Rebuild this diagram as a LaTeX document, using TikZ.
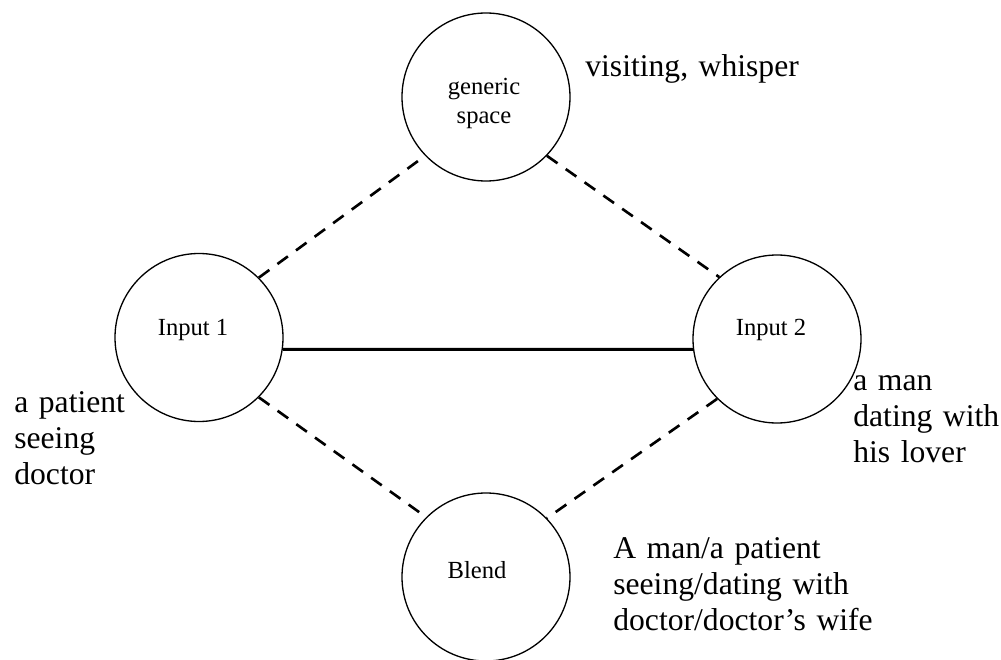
\documentclass[tikz,border=0pt]{standalone}
\usepackage{fontspec}
\setmainfont{Liberation Serif}
\usetikzlibrary{positioning}

\begin{document}
\begin{tikzpicture}[
        bubble/.style={circle, draw=black, line width=0.75pt, minimum size=3.36cm, inner sep=0pt},
        dashlink/.style={line width=1.5pt, dash pattern=on 7.4pt off 5.7pt},
        mainlink/.style={line width=1.7pt},
        inlbl/.style={font=\fontsize{14}{16.1}\selectfont, inner sep=0pt, anchor=base, align=center},
        note/.style={font=\fontsize{18}{20.7}\selectfont, inner sep=0pt, anchor=base west, align=left, text width=7cm}
      ]
        \useasboundingbox (0,0) rectangle (20.02,13.18);
        \node[bubble] (gen) at (9.72, 11.24) {};
        \node[bubble] (in1) at (3.98, 6.43) {};
        \node[bubble] (in2) at (15.54, 6.40) {};
        \node[bubble] (blend) at (9.72, 1.64) {};
        \node[inlbl, text width=3cm] (gentxt) at (9.68, 11.28) {generic\\space};
        \node[inlbl] (in1txt) at (3.86, 6.46) {Input 1};
        \node[inlbl] (in2txt) at (15.42, 6.46) {Input 2};
        \node[inlbl] (blendtxt) at (9.54, 1.62) {Blend};
        \foreach \a/\b in {in1.45/gen.224, gen.316/in2.133, in1.315/blend.135, in2.225/blend.44} { \draw[dashlink] (\a) -- (\b); }
        \draw[mainlink] (in1.-8) -- (in2.187);
        \node[note] (gennote) at (11.70, 11.64) {visiting, whisper};
        \node[note] (in1note) at (0.28, 4.94) {a patient\\seeing\\doctor};
        \node[note] (in2note) at (17.06, 5.38) {a man\\dating with\\his lover};
        \node[note] (blendnote) at (12.26, 2.02) {A man/a patient\\seeing/dating with\\doctor/doctor’s wife};
      \end{tikzpicture}
\end{document}
